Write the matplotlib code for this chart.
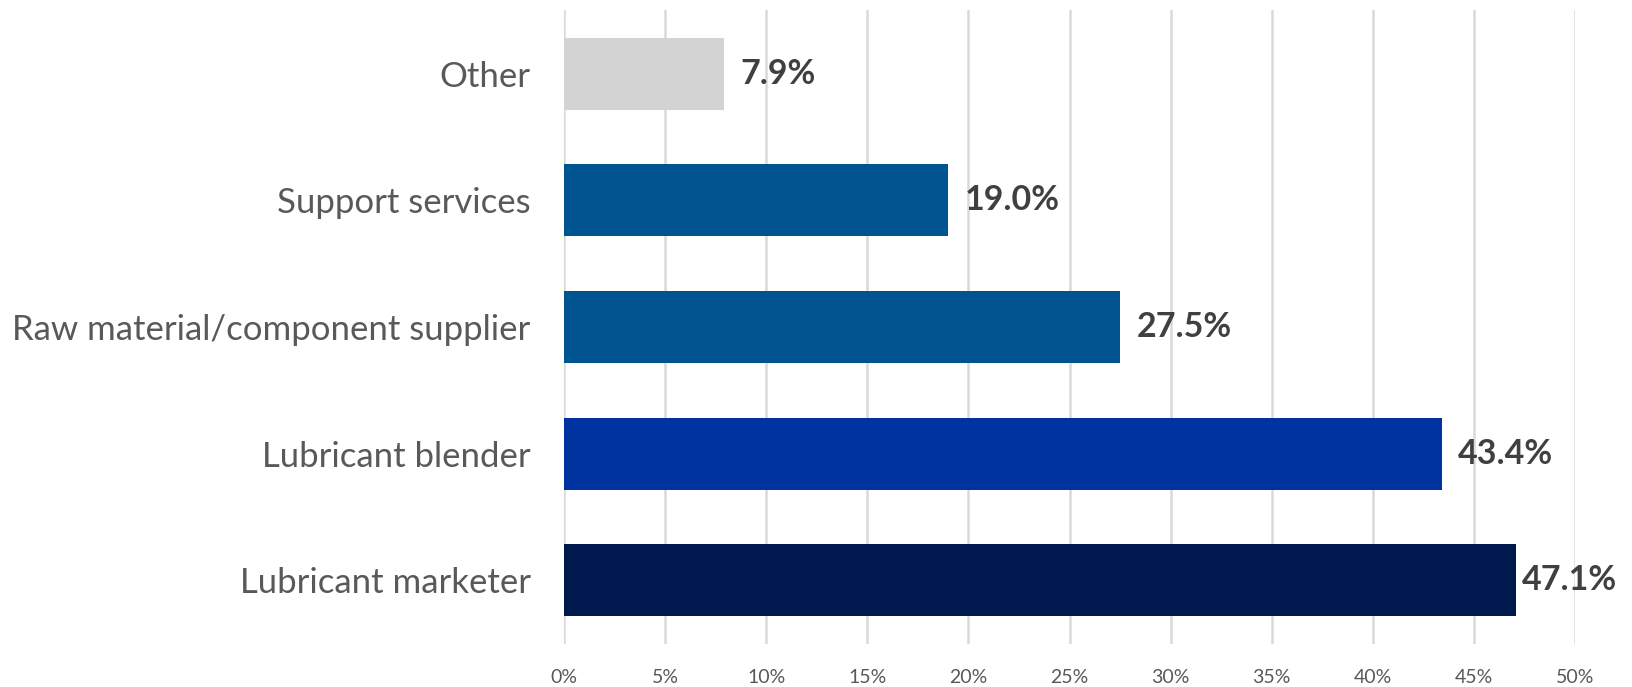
import matplotlib.pyplot as plt
from matplotlib.ticker import FuncFormatter

# data (bottom to top)
categories = ["Lubricant marketer", "Lubricant blender",
              "Raw material/component supplier", "Support services", "Other"]
values = [47.1, 43.4, 27.5, 19.0, 7.9]
bar_colors = ["#001A4F", "#0033A0", "#005591", "#005591", "#D3D3D3"]
x_ticks = [0, 5, 10, 15, 20, 25, 30, 35, 40, 45, 50]

plt.rcParams['font.family'] = ['Lato', 'DejaVu Sans']

fig = plt.figure(figsize=(16.33, 6.87), dpi=100)
ax = fig.add_axes([0.3454, 0.063, 0.6191, 0.922])

ypos = range(len(categories))
ax.barh(ypos, values, height=0.57, color=bar_colors, zorder=3)

labels = []
for y, v in zip(ypos, values):
    t = ax.annotate(f"{v:.1f}%", xy=(v, y), xytext=(12, 0), textcoords="offset points",
                    va="center", ha="left", fontsize=24.5, fontweight="bold",
                    color="#404040")
    labels.append(t)

ax.set_xlim(0, 50)
ax.set_ylim(-0.5, len(categories) - 0.5)
ax.set_xticks(x_ticks)
ax.xaxis.set_major_formatter(FuncFormatter(lambda v, _: f"{v:.0f}%"))
ax.set_yticks(list(ypos))
ax.set_yticklabels(categories)

ax.tick_params(axis='y', length=0, pad=24, labelsize=25, labelcolor="#595959")
ax.tick_params(axis='x', length=0, pad=18, labelsize=14, labelcolor="#595959")
ax.grid(axis='x', color="#D9D9D9", linewidth=1.8, zorder=0)
for s in ax.spines.values():
    s.set_visible(False)

# keep labels inside the figure, like Excel does near the edge
fig.canvas.draw()
r = fig.canvas.get_renderer()
limit = fig.bbox.width - 16
for t in labels:
    bb = t.get_window_extent(r)
    if bb.x1 > limit:
        dx = (bb.x1 - limit) * 72 / fig.dpi
        t.set_position((12 - dx, 0))

fig.savefig("out.png", dpi=100)
